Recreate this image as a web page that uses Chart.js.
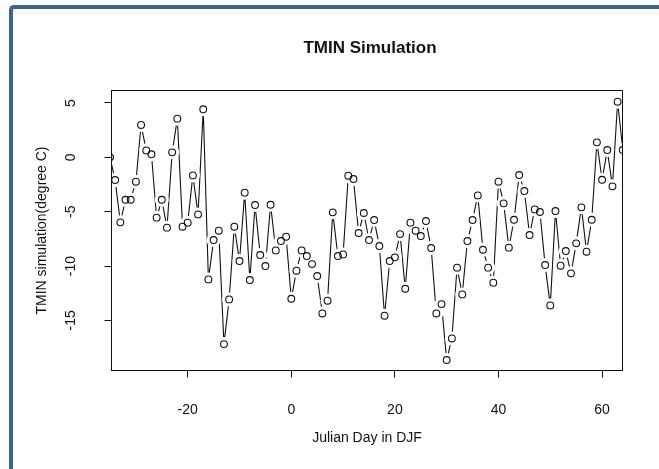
<!DOCTYPE html>
<html>
<head>
<meta charset="utf-8">
<script src="https://cdn.jsdelivr.net/npm/chart.js@4.4.0/dist/chart.umd.min.js"></script>
<style>
  html, body { margin: 0; padding: 0; background: #fff; }
  body { width: 659px; height: 469px; position: relative; overflow: hidden; }
  #frame { position: absolute; left: 9px; top: 5px; width: 700px; height: 520px;
           border-left: 4px solid #3d6593; border-top: 4px solid #3d6593;
           border-top-left-radius: 5px; background: #fff; }
  #wrap { position: absolute; left: 0; top: 0; width: 659px; height: 469px; }
</style>
</head>
<body>
<div id="frame"></div>
<div id="wrap"><canvas id="chart-tmin" width="659" height="469"></canvas></div>
<script>
// =====================
// TMIN SIMULATION - DJF
// =====================

const days = [
  -35, -34, -33, -32, -31, -30, -29, -28, -27, -26, -25, -24, -23, -22, -21, -20,
  -19, -18, -17, -16, -15, -14, -13, -12, -11, -10, -9, -8, -7, -6, -5, -4, -3, -2, -1,
  0, 1, 2, 3, 4, 5, 6, 7, 8, 9, 10, 11, 12, 13, 14, 15, 16, 17, 18, 19, 20,
  21, 22, 23, 24, 25, 26, 27, 28, 29, 30, 31, 32, 33, 34, 35, 36, 37, 38, 39, 40,
  41, 42, 43, 44, 45, 46, 47, 48, 49, 50, 51, 52, 53, 54, 55, 56, 57, 58, 59, 60,
  61, 62, 63, 64
];

const tmin = [
  0.0, -2.09, -5.98, -3.9, -3.9, -2.24, 2.98, 0.64, 0.28, -5.55, -3.9, -6.47, 0.46, 3.56, -6.38, -6.01,
  -1.66, -5.25, 4.42, -11.23, -7.61, -6.75, -17.18, -13.07, -6.38, -9.54, -3.25, -11.29, -4.39, -8.99, -10.0, -4.36, -8.56, -7.7, -7.3,
  -13.01, -10.43, -8.56, -9.08, -9.82, -10.92, -14.36, -13.19, -5.06, -9.08, -8.93, -1.69, -1.99, -6.96, -5.12, -7.61, -5.77, -8.16, -14.57, -9.54, -9.2,
  -7.06, -12.09, -6.01, -6.75, -7.24, -5.86, -8.34, -14.36, -13.5, -18.65, -16.66, -10.15, -12.61, -7.7, -5.77, -3.5, -8.5, -10.15, -11.53, -2.24,
  -4.23, -8.31, -5.74, -1.63, -3.1, -7.15, -4.79, -5.03, -9.91, -13.62, -4.94, -9.97, -8.62, -10.67, -7.91, -4.6, -8.68, -5.74, 1.38, -2.06,
  0.67, -2.67, 5.12, 0.67
];

const xTicks = [-20, 0, 20, 40, 60];
const yTicks = [-15, -10, -5, 0, 5];

const FONT = "'Liberation Sans', Arial, Helvetica, sans-serif";
const INK = '#111';

const points = days.map((d, i) => ({ x: d, y: tmin[i] }));

// box, main title and vertical y tick labels (R style)
const rStylePlugin = {
  id: 'rStyle',
  afterDraw(chart) {
    const { ctx, chartArea: a, scales } = chart;
    ctx.save();
    ctx.strokeStyle = INK;
    ctx.lineWidth = 1;
    ctx.strokeRect(a.left, a.top, a.right - a.left, a.bottom - a.top);

    ctx.fillStyle = INK;
    ctx.font = 'bold 17px ' + FONT;
    ctx.textAlign = 'center';
    ctx.textBaseline = 'middle';
    ctx.fillText('TMIN Simulation', (a.left + a.right) / 2 + 3, 48);

    ctx.font = '14px ' + FONT;
    yTicks.forEach(v => {
      const py = scales.y.getPixelForValue(v);
      ctx.save();
      ctx.translate(a.left - 40, py);
      ctx.rotate(-Math.PI / 2);
      ctx.fillText(String(v), 0, 0);
      ctx.restore();
    });
    ctx.restore();
  }
};

const chart = new Chart(document.getElementById('chart-tmin'), {
  type: 'line',
  data: {
    datasets: [
      {
        label: 'pontos',
        data: points,
        showLine: false,
        pointRadius: 3.4,
        pointBorderWidth: 1.1,
        pointBorderColor: INK,
        pointBackgroundColor: 'rgba(0,0,0,0)',
        order: 0
      },
      {
        label: 'gap',
        data: points,
        showLine: false,
        pointRadius: 7,
        pointBorderWidth: 0,
        pointBorderColor: '#fff',
        pointBackgroundColor: '#fff',
        order: 1
      },
      {
        label: 'linha',
        data: points,
        borderColor: INK,
        borderWidth: 1.1,
        pointRadius: 0,
        tension: 0,
        order: 2
      }
    ]
  },
  options: {
    responsive: false,
    animation: false,
    devicePixelRatio: 1,
    events: [],
    layout: { padding: { top: 90.5, right: 36.5, bottom: 0, left: 0 } },
    plugins: { legend: { display: false }, tooltip: { enabled: false }, title: { display: false } },
    scales: {
      x: {
        type: 'linear',
        min: -34.71,
        max: 63.94,
        afterBuildTicks: s => { s.ticks = xTicks.map(v => ({ value: v })); },
        afterFit: s => { s.height = 98.5; },
        border: { display: false },
        grid: { drawOnChartArea: false, drawTicks: true, tickLength: 7, color: INK },
        ticks: { color: INK, font: { family: FONT, size: 14 }, padding: 24.1, maxRotation: 0 },
        title: {
          display: true,
          text: 'Julian Day in DJF',
          color: INK,
          font: { family: FONT, size: 14 },
          padding: { top: 0, bottom: 22.6 }
        }
      },
      y: {
        type: 'linear',
        min: -19.61,
        max: 6.15,
        afterBuildTicks: s => { s.ticks = yTicks.map(v => ({ value: v })); },
        afterFit: s => { s.width = 111.5; },
        border: { display: false },
        grid: { drawOnChartArea: false, drawTicks: true, tickLength: 7, color: INK },
        ticks: { display: false },
        title: {
          display: true,
          text: 'TMIN simulation(degree C)',
          color: INK,
          font: { family: FONT, size: 14 },
          padding: { top: 33.6, bottom: 0 }
        }
      }
    }
  },
  plugins: [rStylePlugin]
});
</script>
</body>
</html>
